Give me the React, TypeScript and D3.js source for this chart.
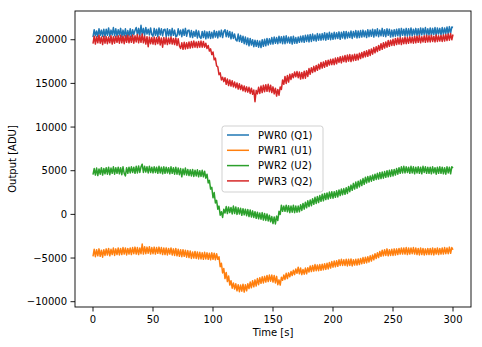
import React from "react";
import * as d3 from "d3";

const seriesNames = ["PWR0 (Q1)", "PWR1 (U1)", "PWR2 (U2)", "PWR3 (Q2)"];
const seriesColors = ["#1f77b4", "#ff7f0e", "#2ca02c", "#d62728"];
const xTicks = [0, 50, 100, 150, 200, 250, 300];
const yTicks = [-10000, -5000, 0, 5000, 10000, 15000, 20000];
const timeStep = 1;

const pwr0 = [
  20300, 21150, 20450, 21000, 20350, 21250, 20500, 21100, 20400, 21200,
  20350, 21200, 20500, 21350, 20400, 21100, 20550, 21400, 20450, 21250,
  20400, 21150, 20550, 21300, 20300, 21100, 20450, 21250, 20250, 21050,
  20450, 21250, 20350, 21150, 20600, 21050, 21400, 20550, 21300, 20450,
  21650, 20600, 21300, 20500, 21400, 20650, 21200, 20550, 21350, 20600,
  20400, 21300, 20500, 21200, 20350, 21350, 20550, 21250, 20450, 21150,
  21200, 20350, 21250, 20450, 21150, 20400, 21300, 20500, 21100, 20350,
  20450, 21250, 20550, 21100, 20350, 21200, 20500, 21300, 20400, 21050,
  21100, 20300, 21050, 20250, 20950, 20400, 21100, 20200, 21000, 20300,
  20150, 20950, 20250, 21000, 20100, 20900, 20200, 20950, 20150, 20850,
  20200, 21050, 20300, 20950, 20200, 21000, 20350, 21100, 20250, 20950,
  21150, 20350, 21050, 20300, 20950, 20100, 20850, 20150, 20650, 20000,
  19850, 20650, 19800, 20500, 19700, 20400, 19550, 20300, 19450, 20200,
  19300, 20150, 19400, 20000, 19200, 19950, 19250, 19900, 19150, 19850,
  19100, 20000, 19250, 20050, 19300, 20150, 19400, 20100, 19500, 20250,
  19500, 20300, 19600, 20250, 19550, 20400, 19650, 20350, 19550, 20400,
  19550, 20450, 19650, 20300, 19600, 20350, 19500, 20400, 19600, 20250,
  19600, 20300, 19700, 20400, 19750, 20450, 19700, 20500, 19800, 20550,
  19750, 20600, 19800, 20650, 19900, 20550, 19850, 20700, 19950, 20650,
  19950, 20700, 20000, 20800, 19950, 20750, 20050, 20850, 20000, 20750,
  20050, 20850, 20100, 20800, 20150, 20900, 20050, 20850, 20200, 20950,
  20100, 20950, 20200, 20850, 20250, 21000, 20150, 20950, 20300, 21050,
  20200, 21000, 20250, 21050, 20300, 21100, 20350, 21000, 20250, 21150,
  20350, 21100, 20400, 21200, 20300, 21150, 20450, 21250, 20350, 21100,
  20450, 21300, 20400, 21150, 20350, 21250, 20500, 21200, 20300, 21100,
  20350, 21150, 20400, 21200, 20450, 21250, 20350, 21300, 20500, 21200,
  20450, 21300, 20400, 21250, 20500, 21350, 20450, 21200, 20550, 21300,
  20500, 21250, 20450, 21350, 20550, 21300, 20600, 21400, 20500, 21250,
  20550, 21350, 20500, 21300, 20600, 21400, 20450, 21350, 20650, 21300,
  20550, 21400, 20600, 21350, 20700, 21450, 20650, 21500, 20750, 21450,
  21400,
];

const pwr1 = [
  -4800, -4000, -4850, -4050, -4750, -3950, -4800, -4100, -4900, -4050,
  -4700, -3950, -4650, -3900, -4750, -4000, -4600, -3850, -4700, -3950,
  -4600, -3850, -4650, -3900, -4600, -3800, -4550, -3850, -4650, -3900,
  -4550, -3850, -4600, -3800, -4500, -3750, -4550, -3800, -4600, -3850,
  -4500, -3400, -4550, -3700, -4500, -3750, -4450, -3700, -4550, -3800,
  -4500, -3750, -4550, -3800, -4450, -3750, -4500, -3800, -4600, -3850,
  -4600, -3850, -4650, -3900, -4550, -3850, -4650, -3950, -4700, -3900,
  -4750, -4000, -4800, -4050, -4850, -4050, -4800, -4100, -4900, -4150,
  -4950, -4200, -5050, -4300, -5000, -4250, -5050, -4300, -5100, -4350,
  -5100, -4400, -5150, -4350, -5100, -4400, -5150, -4450, -5200, -4400,
  -5150, -4450, -5200, -4500, -5150, -4850, -6000, -5600, -6700, -6200,
  -7350, -6650, -7700, -7050, -8100, -7600, -8450, -7850, -8550, -7950,
  -8750, -8050, -8850, -8100, -8800, -8000, -8900, -8050, -8750, -7950,
  -8500, -7750, -8400, -7600, -8300, -7500, -8200, -7350, -8050, -7250,
  -7900, -7150, -7850, -7100, -7750, -7000, -7700, -6950, -7650, -6950,
  -7750, -7000, -7850, -7100, -8050, -7500, -8100, -7200, -7550, -6950,
  -7450, -6750, -7350, -6700, -7150, -6550, -7000, -6400, -6900, -6250,
  -6750, -6050, -6800, -6150, -6900, -6300, -6850, -6150, -6800, -6100,
  -6600, -5900, -6550, -5850, -6500, -5750, -6450, -5800, -6450, -5750,
  -6400, -5700, -6350, -5650, -6300, -5600, -6250, -5500, -6150, -5400,
  -6050, -5350, -6000, -5300, -5950, -5200, -5850, -5150, -5850, -5200,
  -5850, -5150, -5900, -5150, -5850, -5100, -5900, -5200, -5800, -5150,
  -5800, -5100, -5750, -5050, -5650, -4950, -5600, -4900, -5550, -4850,
  -5450, -4750, -5350, -4650, -5200, -4500, -5050, -4400, -4950, -4250,
  -4800, -4100, -4750, -4050, -4700, -3950, -4750, -4050, -4700, -4000,
  -4700, -3950, -4650, -3950, -4600, -3900, -4550, -3850, -4550, -3850,
  -4550, -3800, -4600, -3850, -4550, -3850, -4500, -3800, -4550, -3850,
  -4600, -3900, -4650, -3850, -4600, -3900, -4650, -3950, -4600, -3900,
  -4600, -3900, -4600, -3850, -4650, -3900, -4550, -3850, -4600, -3900,
  -4550, -3850, -4550, -3800, -4500, -3850, -4500, -3750, -4450, -3800,
  -4050,
];

const pwr2 = [
  4550, 5250, 4500, 5300, 4450, 5200, 4600, 5350, 4500, 5250,
  4650, 5350, 4600, 5400, 4550, 5300, 4700, 5450, 4600, 5350,
  4700, 5400, 4650, 5350, 4550, 5450, 4700, 4400, 5350, 4700,
  5400, 4750, 5450, 4800, 5400, 4700, 5500, 4750, 5550, 4800,
  5450, 5750, 4800, 5500, 4850, 5450, 4750, 5500, 4800, 5400,
  4750, 5450, 4800, 5400, 4700, 5500, 4750, 5400, 4650, 5450,
  4700, 5400, 4750, 5350, 4650, 5450, 4700, 5350, 4600, 5400,
  4600, 5300, 4550, 5250, 4300, 5200, 4550, 5300, 4500, 5150,
  4450, 5100, 4400, 5150, 4350, 5050, 4400, 5100, 4300, 5000,
  4350, 5050, 4300, 4950, 4150, 4600, 3600, 3900, 2900, 3100,
  1900, 2500, 1300, 1600, 600, 950, -100, 300, -350, 600,
  150, 900, 100, 850, 200, 800, 50, 950, 100, 850,
  0, 750, 50, 700, -100, 650, -50, 600, -150, 550,
  -250, 500, -300, 400, -350, 300, -450, 250, -500, 150,
  -550, 200, -650, 100, -700, 50, -750, -100, -850, -250,
  -1050, -300, -1100, -200, -700, 350, 0, 1050, 350, 950,
  350, 1050, 300, 1000, 200, 950, 250, 1050, 200, 950,
  250, 950, 300, 1100, 450, 1250, 600, 1400, 750, 1550,
  900, 1650, 1000, 1800, 1150, 1950, 1250, 2050, 1350, 2150,
  1500, 2300, 1550, 2400, 1700, 2450, 1750, 2550, 1850, 2600,
  1850, 2600, 1950, 2700, 2000, 2800, 2150, 2900, 2250, 2950,
  2300, 3050, 2400, 3200, 2600, 3350, 2750, 3550, 2900, 3700,
  3000, 3800, 3150, 3950, 3300, 4100, 3450, 4250, 3600, 4350,
  3700, 4400, 3800, 4500, 3900, 4600, 4000, 4700, 4050, 4800,
  4100, 4850, 4150, 4900, 4250, 5000, 4300, 5050, 4350, 5100,
  4400, 5150, 4500, 5250, 4600, 5350, 4700, 5450, 4750, 5500,
  4750, 5450, 4800, 5400, 4700, 5500, 4750, 5450, 4650, 5400,
  4750, 5450, 4700, 5400, 4650, 5500, 4800, 5450, 4700, 5400,
  4700, 5400, 4650, 5450, 4750, 5350, 4600, 5400, 4700, 5450,
  4700, 5400, 4650, 5350, 4600, 5450, 4750, 5400, 4650, 5450,
  5300,
];

const pwr3 = [
  19550, 20400, 19500, 20350, 19650, 20500, 19600, 20300, 19450, 20400,
  19600, 20350, 19550, 20300, 19650, 20450, 19500, 20350, 19600, 20400,
  19700, 20450, 19600, 20500, 19650, 20400, 19550, 20450, 19700, 20500,
  19650, 20400, 19700, 20550, 19600, 20450, 19750, 20600, 19650, 20450,
  19700, 20650, 19650, 20400, 19500, 20350, 19200, 20300, 19550, 20250,
  19500, 20300, 19450, 20250, 19550, 20350, 19400, 20200, 19150, 20250,
  19500, 20250, 19450, 20200, 19550, 20300, 19500, 20150, 19450, 20200,
  19350, 20100, 19300, 19000, 19650, 18900, 19700, 18950, 19650, 19000,
  19750, 19050, 19800, 19100, 19850, 19150, 19750, 19100, 19800, 19150,
  19850, 19150, 19800, 19150, 19600, 19000, 19350, 18700, 18950, 18300,
  18600, 17700, 17900, 17000, 16900, 16000, 16200, 15400, 15700, 15200,
  15650, 14900, 15500, 14750, 15400, 14700, 15300, 14600, 15150, 14500,
  15050, 14350, 14950, 14300, 14800, 14150, 14700, 14050, 14600, 14000,
  14550, 13850, 14450, 13750, 14250, 12900, 14200, 13800, 14550, 13850,
  14700, 13950, 14800, 14050, 14850, 14100, 14900, 14050, 14800, 13950,
  14600, 13800, 14450, 13550, 14300, 13650, 14600, 14300, 15400, 14900,
  15800, 15000, 15900, 15150, 16050, 15450, 16100, 15650, 16300, 15750,
  16350, 15650, 16300, 15500, 16250, 15550, 16400, 15600, 16450, 15800,
  16700, 16050, 16800, 16250, 16950, 16350, 17050, 16500, 17200, 16650,
  17400, 16750, 17450, 16850, 17600, 16950, 17650, 17100, 17750, 17150,
  17800, 17150, 17900, 17250, 17950, 17400, 18050, 17350, 18100, 17500,
  18200, 17450, 18250, 17550, 18300, 17500, 18250, 17600, 18350, 17650,
  18350, 17700, 18450, 17850, 18550, 17950, 18650, 18050, 18750, 18100,
  18850, 18200, 18950, 18350, 19100, 18500, 19200, 18650, 19350, 18800,
  19550, 18900, 19650, 19050, 19750, 19150, 19900, 19250, 19950, 19350,
  20050, 19350, 20150, 19450, 20200, 19500, 20250, 19450, 20200, 19550,
  20300, 19550, 20250, 19600, 20350, 19650, 20300, 19600, 20400, 19650,
  20400, 19700, 20450, 19650, 20350, 19750, 20450, 19700, 20500, 19750,
  20450, 19750, 20500, 19800, 20400, 19750, 20550, 19800, 20450, 19850,
  20500, 19800, 20550, 19850, 20600, 19900, 20650, 19950, 20700, 20000,
  20600,
];

const allSeries = [pwr0, pwr1, pwr2, pwr3];

const W = 482;
const H = 347;
const ml = 75, mr = 471, mt = 11, mb = 307;
const FONT = "DejaVu Sans, sans-serif";

export default function App() {
  const x = d3.scaleLinear().domain([-15, 315]).range([ml, mr]);
  const y = d3.scaleLinear().domain([-10607, 23290]).range([mb, mt]);
  const line = d3
    .line<number>()
    .x((_, i) => x(i * timeStep))
    .y((v) => y(v));

  const legX = 222, legY = 126, legW = 101, legH = 66;

  return (
    <svg
      width={W}
      height={H}
      style={{ position: "absolute", left: 0, top: 0, display: "block" }}
      fontFamily={FONT}
    >
      <rect x={0} y={0} width={W} height={H} fill="#ffffff" />
      <defs>
        <clipPath id="plotclip">
          <rect x={ml} y={mt} width={mr - ml} height={mb - mt} />
        </clipPath>
      </defs>
      <g clipPath="url(#plotclip)">
        {allSeries.map((s, i) => (
          <path
            key={i}
            d={line(s) || ""}
            fill="none"
            stroke={seriesColors[i]}
            strokeWidth={1.5}
            strokeLinejoin="round"
          />
        ))}
      </g>
      <rect
        x={ml}
        y={mt}
        width={mr - ml}
        height={mb - mt}
        fill="none"
        stroke="#000"
        strokeWidth={0.9}
      />
      {xTicks.map((t) => (
        <g key={"x" + t}>
          <line x1={x(t)} x2={x(t)} y1={mb} y2={mb + 4.5} stroke="#000" strokeWidth={0.9} />
          <text x={x(t)} y={323} fontSize={10} textAnchor="middle" fill="#000">
            {t}
          </text>
        </g>
      ))}
      {yTicks.map((t) => (
        <g key={"y" + t}>
          <line x1={ml - 4.5} x2={ml} y1={y(t)} y2={y(t)} stroke="#000" strokeWidth={0.9} />
          <text
            x={67}
            y={y(t)}
            dy="0.36em"
            fontSize={10}
            textAnchor="end"
            fill="#000"
          >
            {t < 0 ? "\u2212" + Math.abs(t) : String(t)}
          </text>
        </g>
      ))}
      <text x={(ml + mr) / 2} y={336} fontSize={10} textAnchor="middle" fill="#000">
        Time [s]
      </text>
      <text
        transform={`translate(16, ${(mt + mb) / 2}) rotate(-90)`}
        fontSize={10}
        textAnchor="middle"
        fill="#000"
      >
        Output [ADU]
      </text>
      <g>
        <rect
          x={legX}
          y={legY}
          width={legW}
          height={legH}
          rx={2.5}
          fill="#ffffff"
          fillOpacity={0.8}
          stroke="#cccccc"
          strokeWidth={0.9}
        />
        {seriesNames.map((n, i) => {
          const cy = 135 + i * 15.3;
          return (
            <g key={n}>
              <line x1={227} x2={249} y1={cy} y2={cy} stroke={seriesColors[i]} strokeWidth={1.5} />
              <text x={258} y={cy} dy="0.36em" fontSize={10} fill="#000">
                {n}
              </text>
            </g>
          );
        })}
      </g>
    </svg>
  );
}
